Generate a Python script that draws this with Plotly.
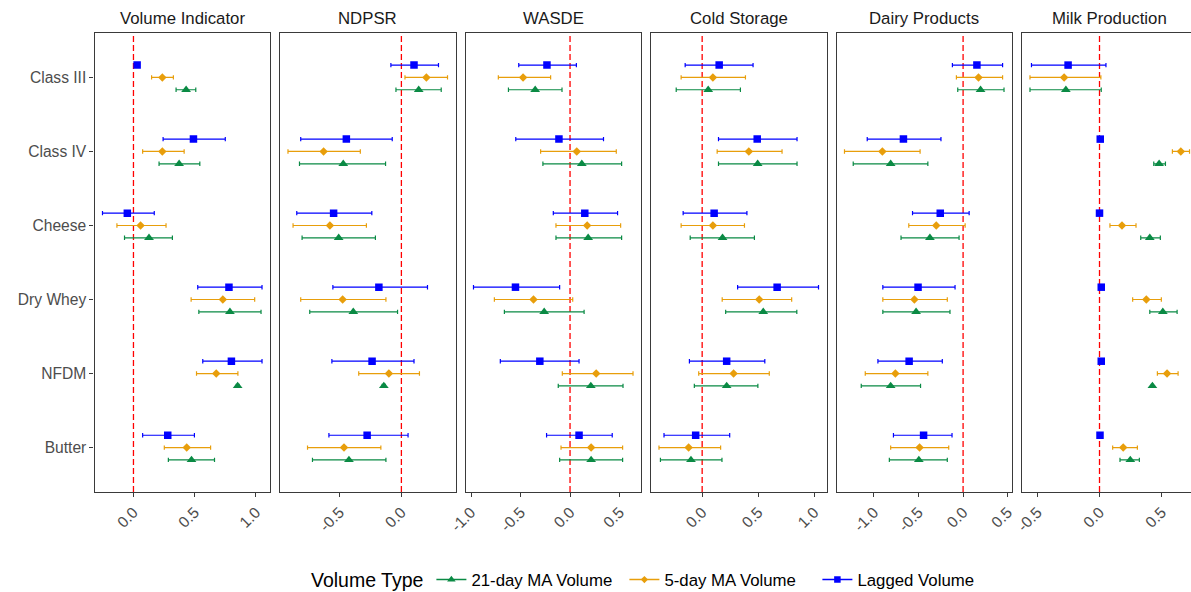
import plotly.graph_objects as go

# ---------------- data ----------------
CATEGORIES = ["Class III", "Class IV", "Cheese", "Dry Whey", "NFDM", "Butter"]
PANELS = ["Volume Indicator", "NDPSR", "WASDE", "Cold Storage", "Dairy Products", "Milk Production"]
SERIES = ["21-day MA Volume", "5-day MA Volume", "Lagged Volume"]

# each row = one panel (order of PANELS); each column = one category (order of CATEGORIES)
lag_est = [
    [0.030, 0.490, -0.050, 0.780, 0.800, 0.280],
    [0.102, -0.445, -0.548, -0.182, -0.237, -0.277],
    [-0.233, -0.112, 0.149, -0.551, -0.305, 0.091],
    [0.152, 0.492, 0.107, 0.670, 0.219, -0.058],
    [0.155, -0.669, -0.256, -0.505, -0.605, -0.443],
    [-0.253, 0.006, 0.000, 0.014, 0.014, 0.004],
]
lag_lo = [
    [0.020, 0.242, -0.253, 0.525, 0.566, 0.075],
    [-0.085, -0.814, -0.846, -0.554, -0.562, -0.586],
    [-0.518, -0.548, -0.169, -0.975, -0.704, -0.237],
    [-0.152, 0.146, -0.170, 0.317, -0.114, -0.341],
    [-0.120, -1.075, -0.567, -0.900, -0.955, -0.781],
    [-0.548, 0.000, -0.006, 0.008, 0.008, -0.002],
]
lag_hi = [
    [0.045, 0.750, 0.170, 1.050, 1.050, 0.498],
    [0.300, -0.074, -0.239, 0.211, 0.102, 0.054],
    [0.064, 0.338, 0.480, -0.105, 0.091, 0.426],
    [0.455, 0.848, 0.400, 1.040, 0.560, 0.246],
    [0.443, -0.248, 0.068, -0.090, -0.233, -0.124],
    [0.052, 0.012, 0.006, 0.020, 0.020, 0.010],
]
ma5_est = [
    [0.236, 0.236, 0.058, 0.730, 0.676, 0.435],
    [0.202, -0.629, -0.578, -0.475, -0.101, -0.464],
    [-0.474, 0.068, 0.173, -0.369, 0.264, 0.213],
    [0.096, 0.417, 0.096, 0.510, 0.281, -0.121],
    [0.173, -0.905, -0.301, -0.546, -0.759, -0.488],
    [-0.285, 0.655, 0.181, 0.377, 0.544, 0.191],
]
ma5_lo = [
    [0.148, 0.075, -0.135, 0.471, 0.515, 0.252],
    [0.029, -0.917, -0.876, -0.814, -0.345, -0.759],
    [-0.724, -0.297, -0.142, -0.764, -0.078, -0.091],
    [-0.188, 0.134, -0.188, 0.179, -0.031, -0.386],
    [-0.075, -1.330, -0.609, -0.900, -1.097, -0.812],
    [-0.560, 0.587, 0.084, 0.267, 0.466, 0.106],
]
ma5_hi = [
    [0.326, 0.414, 0.266, 0.990, 0.853, 0.630],
    [0.373, -0.332, -0.283, -0.125, 0.146, -0.166],
    [-0.196, 0.467, 0.511, 0.027, 0.636, 0.531],
    [0.387, 0.714, 0.378, 0.800, 0.600, 0.165],
    [0.443, -0.482, 0.023, -0.177, -0.395, -0.161],
    [0.011, 0.725, 0.294, 0.498, 0.633, 0.305],
]
ma21_est = [
    [0.430, 0.373, 0.127, 0.788, 0.851, 0.474],
    [0.140, -0.470, -0.507, -0.389, -0.142, -0.424],
    [-0.352, 0.119, 0.183, -0.261, 0.210, 0.213],
    [0.054, 0.496, 0.182, 0.546, 0.219, -0.100],
    [0.196, -0.812, -0.372, -0.527, -0.812, -0.496],
    [-0.271, 0.480, 0.405, 0.510, 0.426, 0.248],
]
ma21_lo = [
    [0.348, 0.209, -0.073, 0.534, 0.840, 0.285],
    [-0.044, -0.824, -0.803, -0.741, -0.155, -0.719],
    [-0.622, -0.274, -0.142, -0.663, -0.119, -0.105],
    [-0.232, 0.146, -0.107, 0.210, -0.070, -0.373],
    [-0.060, -1.232, -0.696, -0.900, -1.142, -0.827],
    [-0.560, 0.437, 0.332, 0.405, 0.418, 0.165],
]
ma21_hi = [
    [0.509, 0.542, 0.318, 1.042, 0.862, 0.662],
    [0.322, -0.128, -0.210, -0.031, -0.130, -0.125],
    [-0.081, 0.521, 0.521, 0.142, 0.535, 0.531],
    [0.342, 0.848, 0.467, 0.846, 0.498, 0.177],
    [0.459, -0.395, -0.045, -0.147, -0.477, -0.177],
    [0.014, 0.531, 0.490, 0.625, 0.434, 0.321],
]

X_TICKS = [
    [0.0, 0.5, 1.0],
    [-0.5, 0.0],
    [-1.0, -0.5, 0.0, 0.5],
    [0.0, 0.5, 1.0],
    [-1.0, -0.5, 0.0, 0.5],
    [-0.5, 0.0, 0.5],
]

# ---------------- styling ----------------
W, H = 1191, 592
ML, MT, MB, MR = 94, 33, 100, 0
PLOT_W = W - ML - MR
PANEL_X0 = 94.5
PANEL_W = 175.5
PANEL_GAP = 10.0

FONT = "Liberation Sans, Arial, sans-serif"
BORDER = "#3a3a3a"
TXT_AXIS = "#4D4D4D"

series_data = {
    "21-day MA Volume": (ma21_est, ma21_lo, ma21_hi),
    "5-day MA Volume": (ma5_est, ma5_lo, ma5_hi),
    "Lagged Volume": (lag_est, lag_lo, lag_hi),
}
series_style = {
    "21-day MA Volume": dict(color="#0A8A44", symbol="triangle-up", size=8.5, dodge=1 / 6),
    "5-day MA Volume": dict(color="#E89E0B", symbol="diamond", size=6.5, dodge=0.0),
    "Lagged Volume": dict(color="#0000FF", symbol="square", size=7.5, dodge=-1 / 6),
}

fig = go.Figure()
layout_axes = {}
shapes = []
annotations = []

for p, panel in enumerate(PANELS):
    ax = "" if p == 0 else str(p + 1)
    xref = "x" + ax
    yref = "y" + ax

    # ggplot-like 5% expansion of the data (incl. the zero line)
    all_lo = min(min(ma21_lo[p]), min(ma5_lo[p]), min(lag_lo[p]), 0.0)
    all_hi = max(max(ma21_hi[p]), max(ma5_hi[p]), max(lag_hi[p]), 0.0)
    span = all_hi - all_lo
    r0, r1 = all_lo - 0.05 * span, all_hi + 0.05 * span

    px0 = PANEL_X0 + p * (PANEL_W + PANEL_GAP)
    px1 = px0 + PANEL_W
    if px1 > W:  # last panel is cut by the image edge
        frac = (W - px0) / PANEL_W
        r1 = r0 + (r1 - r0) * frac
        px1 = W
    d0 = (px0 - ML) / PLOT_W
    d1 = min(1.0, (px1 - ML) / PLOT_W)
    last = p == len(PANELS) - 1

    for name in SERIES:
        est, lo, hi = series_data[name]
        st = series_style[name]
        ys = [i + st["dodge"] for i in range(len(CATEGORIES))]
        fig.add_trace(go.Scatter(
            x=est[p], y=ys, xaxis=xref, yaxis=yref,
            mode="markers", showlegend=False, name=name,
            marker=dict(color=st["color"], symbol=st["symbol"], size=st["size"], line=dict(width=0)),
            error_x=dict(type="data", symmetric=False,
                         array=[h - e for h, e in zip(hi[p], est[p])],
                         arrayminus=[e - l for e, l in zip(est[p], lo[p])],
                         color=st["color"], thickness=1.2, width=2.2),
            hoverinfo="skip",
        ))

    layout_axes["xaxis" + ax] = dict(
        domain=[d0, d1], anchor=yref, range=[r0, r1],
        tickvals=X_TICKS[p], ticktext=[f"{v:.1f}" for v in X_TICKS[p]],
        tickangle=-45, ticks="outside", ticklen=4, tickcolor=BORDER, tickwidth=1,
        tickfont=dict(family=FONT, size=15.6, color=TXT_AXIS),
        showgrid=False, zeroline=False,
        showline=True, mirror=True, linecolor=BORDER, linewidth=1.2,
    )
    layout_axes["yaxis" + ax] = dict(
        domain=[0, 1], anchor=xref, range=[len(CATEGORIES) - 0.4, -0.6],
        tickvals=list(range(len(CATEGORIES))), ticktext=CATEGORIES,
        showticklabels=(p == 0), ticks="outside" if p == 0 else "",
        ticklen=4, tickcolor=BORDER,
        tickfont=dict(family=FONT, size=15.6, color=TXT_AXIS),
        showgrid=False, zeroline=False,
        showline=True, mirror=(not last), linecolor=BORDER, linewidth=1.2,
    )

    shapes.append(dict(type="line", xref=xref, yref=yref + " domain",
                       x0=0, x1=0, y0=0, y1=1, layer="below",
                       line=dict(color="red", width=1.3, dash="6px,3px")))
    annotations.append(dict(text=panel, xref="paper", yref="paper",
                            x=(px0 + PANEL_W / 2 - ML) / PLOT_W,
                            y=1.0, yshift=15, xanchor="center", yanchor="middle",
                            showarrow=False,
                            font=dict(family=FONT, size=16.8, color="#1A1A1A")))

# legend-only entries (line + marker keys like ggplot)
for name in SERIES:
    st = series_style[name]
    fig.add_trace(go.Scatter(
        x=[None], y=[None], mode="lines+markers", name=name,
        line=dict(color=st["color"], width=1.5),
        marker=dict(color=st["color"], symbol=st["symbol"], size=st["size"] - 1),
        showlegend=True,
    ))

fig.update_layout(
    width=W, height=H,
    margin=dict(l=ML, r=MR, t=MT, b=MB, autoexpand=False),
    paper_bgcolor="white", plot_bgcolor="white",
    font=dict(family=FONT, color="black"),
    shapes=shapes, annotations=annotations,
    showlegend=True,
    legend=dict(
        orientation="h", x=(309 - ML) / PLOT_W, xanchor="left", y=-0.192, yanchor="middle",
        title=dict(text="Volume Type", side="left", font=dict(family=FONT, size=19.5, color="black")),
        font=dict(family=FONT, size=16.8, color="black"),
        itemwidth=30, tracegroupgap=0, bgcolor="rgba(0,0,0,0)",
        entrywidth=148, entrywidthmode="pixels",
    ),
    **layout_axes,
)

fig.write_html("out.html", config={"displayModeBar": False},
               post_script="document.body.style.margin='0';document.body.style.overflow='hidden';")
